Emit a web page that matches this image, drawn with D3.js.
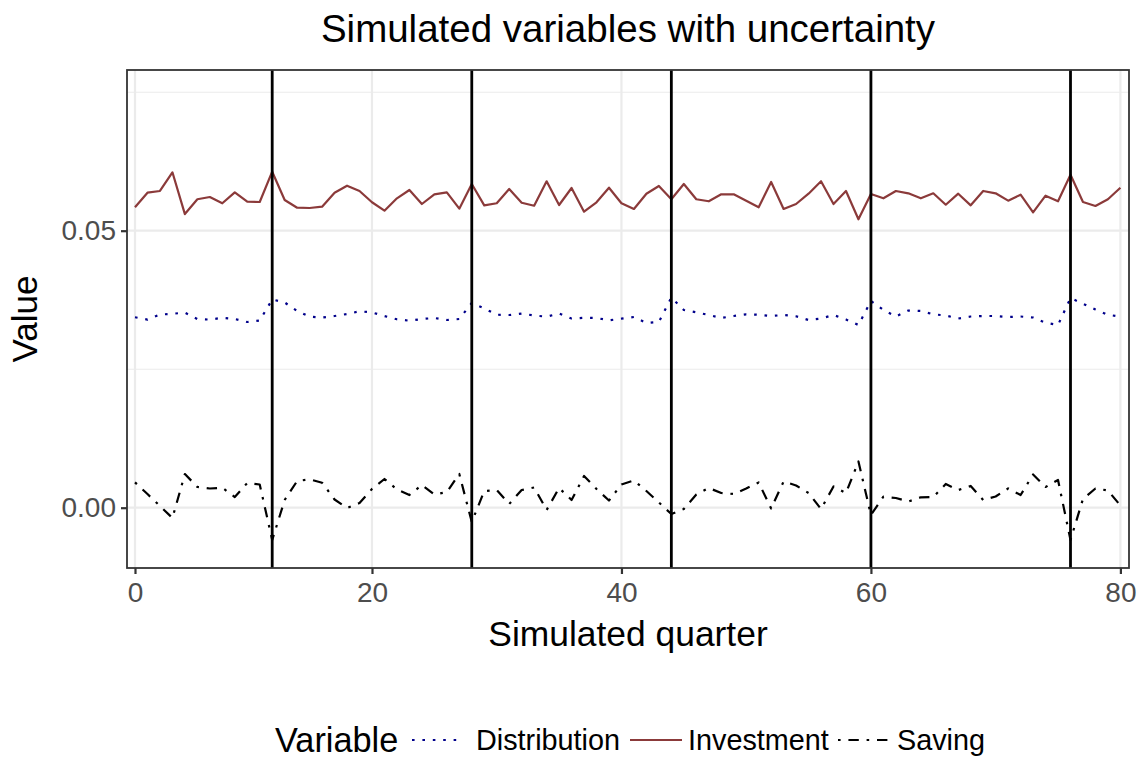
<!DOCTYPE html>
<html><head><meta charset="utf-8">
<script src="https://cdn.jsdelivr.net/npm/d3@7"></script>
<style>body{margin:0;background:#fff;} svg{display:block;font-family:"Liberation Sans",Arial,Helvetica,sans-serif;}</style>
</head><body>
<svg id="chart" width="1143" height="758"></svg>
<script>
const quarters = d3.range(1, 81);
const investment = [0.05422,0.05686,0.05717,0.06054,0.05300,0.05567,0.05608,0.05495,0.05693,0.05523,
0.05518,0.06065,0.05554,0.05415,0.05410,0.05433,0.05686,0.05812,0.05717,0.05513,
0.05361,0.05585,0.05735,0.05482,0.05657,0.05693,0.05397,0.05843,0.05458,0.05495,
0.05753,0.05505,0.05451,0.05892,0.05464,0.05771,0.05343,0.05513,0.05776,0.05495,
0.05392,0.05668,0.05807,0.05567,0.05843,0.05567,0.05531,0.05657,0.05657,0.05542,
0.05422,0.05879,0.05392,0.05482,0.05668,0.05892,0.05482,0.05717,0.05206,0.05662,
0.05585,0.05717,0.05675,0.05585,0.05675,0.05469,0.05668,0.05458,0.05717,0.05675,
0.05542,0.05650,0.05332,0.05632,0.05531,0.06011,0.05518,0.05446,0.05567,0.05776];
const distribution = [0.03437,0.03395,0.03486,0.03500,0.03522,0.03406,0.03395,0.03428,0.03406,0.03352,
0.03379,0.03758,0.03704,0.03551,0.03449,0.03433,0.03460,0.03496,0.03545,0.03525,
0.03460,0.03401,0.03375,0.03406,0.03424,0.03388,0.03406,0.03695,0.03596,0.03484,
0.03478,0.03505,0.03469,0.03448,0.03505,0.03415,0.03428,0.03424,0.03383,0.03412,
0.03442,0.03334,0.03352,0.03794,0.03569,0.03527,0.03478,0.03424,0.03460,0.03491,
0.03482,0.03460,0.03478,0.03455,0.03388,0.03415,0.03478,0.03397,0.03298,0.03731,
0.03569,0.03451,0.03560,0.03551,0.03491,0.03469,0.03415,0.03451,0.03460,0.03460,
0.03442,0.03451,0.03433,0.03339,0.03298,0.03785,0.03682,0.03578,0.03482,0.03448];
const saving = [0.00458,0.00247,0.00031,-0.00186,0.00608,0.00374,0.00347,0.00361,0.00193,0.00446,
0.00419,-0.00583,0.00139,0.00482,0.00513,0.00451,0.00148,-0.00005,0.00085,0.00338,
0.00518,0.00329,0.00229,0.00410,0.00238,0.00283,0.00608,-0.00258,0.00301,0.00319,
0.00067,0.00319,0.00365,-0.00042,0.00356,0.00139,0.00572,0.00338,0.00130,0.00419,
0.00491,0.00301,0.00094,-0.00114,-0.00023,0.00238,0.00356,0.00265,0.00247,0.00347,
0.00455,-0.00014,0.00473,0.00401,0.00265,-0.00023,0.00383,0.00265,0.00834,-0.00132,
0.00199,0.00175,0.00112,0.00188,0.00193,0.00428,0.00319,0.00392,0.00139,0.00202,
0.00347,0.00229,0.00599,0.00374,0.00500,-0.00583,0.00157,0.00347,0.00310,0.00040];
const shockQuarters = [12, 28, 44, 60, 76];
const xTickPositions = [1, 20, 40, 60, 80];
const xTickLabels = ["0", "20", "40", "60", "80"];
const yTicks = [0, 0.05];
const yMinorTicks = [0.025, 0.075];
const seriesNames = ["Distribution", "Investment", "Saving"];
const seriesColors = ["#00008B", "#8B3A3A", "#000000"];
const seriesDash = ["2.6,7.8", null, "2.6,7.8,10.4,7.8"];
const seriesValues = [distribution, investment, saving];

const FONT = "Liberation Sans, Arial, sans-serif";
const svg = d3.select("#chart");
const L = 127, R = 1129, T = 70, B = 568;
const x = d3.scaleLinear().domain([0.359, 80.69]).range([L, R]);
const y = d3.scaleLinear().domain([-0.010884, 0.079007]).range([B, T]);

// grid
const g = svg.append("g");
g.selectAll(".ymin").data(yMinorTicks).join("line")
  .attr("x1", L).attr("x2", R).attr("y1", d => y(d)).attr("y2", d => y(d))
  .attr("stroke", "#ebebeb").attr("stroke-width", 1.1);
g.selectAll(".ymaj").data(yTicks).join("line")
  .attr("x1", L).attr("x2", R).attr("y1", d => y(d)).attr("y2", d => y(d))
  .attr("stroke", "#ebebeb").attr("stroke-width", 2.2);
g.selectAll(".xmaj").data(xTickPositions).join("line")
  .attr("y1", T).attr("y2", B).attr("x1", d => x(d)).attr("x2", d => x(d))
  .attr("stroke", "#ebebeb").attr("stroke-width", 2.2);

// series
svg.append("clipPath").attr("id", "clp").append("rect")
  .attr("x", L).attr("y", T).attr("width", R - L).attr("height", B - T);
const lineGen = vals => d3.line().x((d, i) => x(quarters[i])).y(d => y(d))(vals);
const pg = svg.append("g").attr("clip-path", "url(#clp)");
seriesValues.forEach((vals, k) => {
  pg.append("path").attr("d", lineGen(vals)).attr("fill", "none")
    .attr("stroke", seriesColors[k]).attr("stroke-width", 2.2)
    .attr("stroke-dasharray", seriesDash[k]).attr("stroke-linejoin", "round");
});
pg.selectAll(".vl").data(shockQuarters).join("line")
  .attr("x1", d => x(d)).attr("x2", d => x(d)).attr("y1", T).attr("y2", B)
  .attr("stroke", "#000").attr("stroke-width", 2.8);

// panel border
svg.append("rect").attr("x", L).attr("y", T).attr("width", R - L).attr("height", B - T)
  .attr("fill", "none").attr("stroke", "#333333").attr("stroke-width", 1.8);

// axes
const xAxis = d3.axisBottom(x).tickValues(xTickPositions)
  .tickFormat((d, i) => xTickLabels[i]).tickSize(6).tickPadding(8);
const xa = svg.append("g").attr("transform", `translate(0,${B})`).call(xAxis);
xa.select(".domain").remove();
xa.selectAll("line").attr("stroke", "#333333").attr("stroke-width", 2.2);
xa.selectAll("text").attr("fill", "#4d4d4d").attr("font-size", 28).attr("font-family", FONT);

const yAxis = d3.axisLeft(y).tickValues(yTicks).tickFormat(d3.format(".2f")).tickSize(6).tickPadding(5);
const ya = svg.append("g").attr("transform", `translate(${L},0)`).call(yAxis);
ya.select(".domain").remove();
ya.selectAll("line").attr("stroke", "#333333").attr("stroke-width", 2.2);
ya.selectAll("text").attr("fill", "#4d4d4d").attr("font-size", 28).attr("font-family", FONT);

// titles
svg.append("text").attr("x", (L + R) / 2).attr("y", 42).attr("text-anchor", "middle")
  .attr("font-size", 38.5).attr("fill", "#000").text("Simulated variables with uncertainty");
svg.append("text").attr("x", (L + R) / 2).attr("y", 646).attr("text-anchor", "middle")
  .attr("font-size", 35.4).attr("fill", "#000").text("Simulated quarter");
svg.append("text").attr("transform", `translate(37,${(T + B) / 2}) rotate(-90)`).attr("text-anchor", "middle")
  .attr("font-size", 35).attr("fill", "#000").text("Value");

// legend
const lg = svg.append("g");
lg.append("text").attr("x", 275).attr("y", 752).attr("font-size", 34.3).attr("fill", "#000").text("Variable");
const keyX = [412, 630, 838];
const labelX = [476, 688, 897];
seriesNames.forEach((n, k) => {
  lg.append("line").attr("x1", keyX[k]).attr("x2", keyX[k] + 52).attr("y1", 740).attr("y2", 740)
    .attr("stroke", seriesColors[k]).attr("stroke-width", 2.2).attr("stroke-dasharray", seriesDash[k]);
  lg.append("text").attr("x", labelX[k]).attr("y", 750).attr("font-size", 28.8).attr("fill", "#000").text(n);
});
</script>
</body></html>
